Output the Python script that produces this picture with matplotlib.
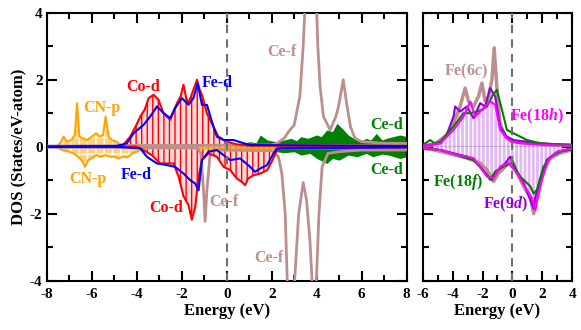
import numpy as np
import matplotlib
matplotlib.use('Agg')
import matplotlib.pyplot as plt
from matplotlib.ticker import MultipleLocator

plt.rcParams['font.family'] = ['Liberation Serif', 'DejaVu Serif']
plt.rcParams['font.weight'] = 'bold'
plt.rcParams['axes.labelweight'] = 'bold'
plt.rcParams['mathtext.fontset'] = 'custom'
plt.rcParams['mathtext.rm'] = 'Liberation Serif:bold'
plt.rcParams['mathtext.it'] = 'Liberation Serif:italic:bold'
plt.rcParams['hatch.linewidth'] = 1.0

# tick labels
left_xticks = [-8, -6, -4, -2, 0, 2, 4, 6, 8]
right_xticks = [-6, -4, -2, 0, 2, 4]
yticks = [-4, -2, 0, 2, 4]

# ---- left panel: total/partial DOS (energy, value) pairs ----
cnp_up_e = [-8, -7.6, -7.4, -7.25, -7.1, -6.9, -6.75, -6.65, -6.55, -6.4, -6.2, -6.0, -5.8,
            -5.65, -5.5, -5.38, -5.25, -5.1, -4.9, -4.7, -4.2, -3.8, 8]
cnp_up = [0, 0, 0.1, 0.3, 0.15, 0.2, 0.35, 1.3, 0.3, 0.25, 0.2, 0.3, 0.4,
          0.3, 0.35, 0.9, 0.3, 0.2, 0.15, 0.05, 0.04, 0.04, 0.04]
cnp_dn_e = [-8, -7.6, -7.3, -7.0, -6.8, -6.6, -6.4, -6.3, -6.15, -6.0, -5.8, -5.6, -5.4,
            -5.2, -5.0, -4.8, -4.6, -4.4, -4.2, -4.0, -3.8, -3.6, 8]
cnp_dn = [0, 0, -0.1, -0.15, -0.2, -0.3, -0.45, -0.6, -0.4, -0.35, -0.25, -0.3, -0.25,
          -0.3, -0.3, -0.35, -0.3, -0.32, -0.2, -0.15, -0.08, -0.05, -0.05]

cod_up_e = [-8, -4.8, -4.6, -4.29, -4.05, -3.84, -3.65, -3.47, -3.25, -3.03, -2.81, -2.51,
            -2.21, -2.05, -1.92, -1.8, -1.7, -1.48, -1.32, -1.2, -1.1, -0.88, -0.59, -0.37,
            0.0, 0.44, 1.0, 8]
cod_up = [0, 0, 0.05, 0.3, 0.6, 0.9, 1.1, 1.45, 1.55, 1.4, 1.0, 0.8,
          1.3, 1.5, 1.85, 1.45, 1.3, 1.7, 2.0, 1.7, 1.55, 1.0, 0.6, 0.3,
          0.15, 0.07, 0.03, 0.02]
cod_dn_e = [-8, -4.0, -3.7, -3.33, -2.96, -2.66, -2.36, -2.14, -1.92, -1.7, -1.55, -1.4,
            -1.25, -1.1, -0.81, -0.44, -0.14, 0.16, 0.45, 0.67, 0.82, 0.95, 1.2, 1.5,
            1.8, 2.0, 2.2, 2.4, 8]
cod_dn = [0, 0, -0.1, -0.25, -0.5, -0.5, -0.5, -0.89, -1.48, -1.74, -2.18, -1.8,
          -0.9, -0.4, -0.2, -0.3, -0.6, -0.7, -0.95, -1.05, -1.15, -0.95, -0.85, -0.8,
          -0.7, -0.45, -0.15, -0.03, -0.02]

fed_up_e = [-8, -4.9, -4.44, -4.14, -3.7, -3.4, -3.1, -2.8, -2.51, -2.3, -1.99, -1.7,
            -1.48, -1.29, -1.1, -0.88, -0.66, -0.44, -0.14, 0.3, 0.67, 1.04, 8]
fed_up = [0, 0.02, 0.1, 0.4, 0.65, 0.9, 1.2, 1.0, 0.85, 1.15, 1.45, 1.25,
          1.45, 1.9, 1.25, 1.25, 0.75, 0.3, 0.2, 0.2, 0.12, 0.05, 0.02]
fed_dn_e = [-8, -5.0, -3.84, -3.55, -3.1, -2.66, -2.3, -1.92, -1.62, -1.4, -1.25, -1.1,
            -0.81, -0.44, -0.14, 0.16, 0.6, 1.04, 1.26, 1.49, 1.79, 2.08, 2.24, 8]
fed_dn = [0, 0, -0.05, -0.3, -0.5, -0.55, -0.6, -0.8, -1.0, -1.1, -1.3, -0.4,
          -0.15, -0.1, -0.25, -0.4, -0.35, -0.6, -0.75, -0.65, -0.55, -0.2, -0.05, -0.02]

cef_up_e = [-8, 2.0, 2.23, 2.55, 2.75, 3.0, 3.25, 3.4, 3.5, 3.7, 3.95, 4.05, 4.15,
            4.3, 4.6, 4.85, 4.97, 5.18, 5.35, 5.5, 5.7, 6.0, 7.0, 8.0]
cef_up = [0.02, 0.05, 0.1, 0.25, 0.45, 0.65, 1.5, 3.0, 4.5, 7.0, 5.0, 3.0, 1.8,
          0.9, 0.5, 0.9, 1.2, 2.0, 1.2, 0.6, 0.25, 0.15, 0.1, 0.1]
cef_dn_e = [-8, -1.3, -1.15, -1.03, -0.96, -0.88, -0.73, -0.5, 2.0, 2.3, 2.45, 2.6, 2.7,
            2.85, 3.0, 3.2, 3.4, 3.55, 3.7, 3.8, 3.9, 3.98, 4.1, 4.24, 4.5, 5.0, 6.0, 8.0]
cef_dn = [-0.02, -0.03, -0.2, -1.3, -2.23, -1.3, -0.15, -0.1, -0.12, -0.3, -0.8, -2.0, -4.2,
          -6.0, -4.2, -2.0, -1.07, -1.6, -2.8, -4.1, -6.0, -4.1, -2.0, -0.6, -0.2, -0.15, -0.1, -0.1]

ced_up_e = [-8, -4, -3, -2, -1, -0.3, 0.3, 0.7, 1.0, 1.3, 1.49, 1.8, 2.2, 2.55, 2.86, 3.1,
            3.3, 3.6, 4.0, 4.2, 4.45, 4.7, 4.9, 5.2, 5.4, 5.64, 5.9, 6.2, 6.4, 6.65, 6.9,
            7.1, 7.4, 7.7, 8]
ced_up = [0, 0, 0.03, 0.05, 0.07, 0.1, 0.1, 0.07, 0.15, 0.12, 0.35, 0.2, 0.15, 0.2, 0.25, 0.18,
          0.3, 0.25, 0.35, 0.3, 0.5, 0.45, 0.7, 0.5, 0.35, 0.25, 0.15, 0.25, 0.2, 0.4, 0.2,
          0.25, 0.3, 0.35, 0.3]
ced_dn_e = [-8, -4, -2, -1.6, -1.0, -0.4, 0.3, 0.8, 1.2, 1.9, 2.55, 3.0, 3.3, 3.7, 4.0, 4.45,
            4.7, 5.0, 5.4, 5.8, 6.2, 6.5, 6.9, 7.2, 7.7, 8]
ced_dn = [0, 0, -0.03, -0.1, -0.15, -0.12, -0.1, -0.15, -0.18, -0.12, -0.18, -0.15, -0.25,
          -0.2, -0.35, -0.5, -0.35, -0.4, -0.25, -0.3, -0.2, -0.3, -0.22, -0.25, -0.35, -0.3]

# ---- right panel: Fe site-resolved DOS ----
fe6c_up_e = [-6, -5.3, -4.83, -4.39, -3.94, -3.5, -3.16, -2.94, -2.6, -2.27, -2.04, -1.82,
             -1.6, -1.37, -1.22, -1.0, -0.82, -0.48, -0.04, 0.52, 1.64, 2.75, 4]
fe6c_up = [0.05, 0.05, 0.2, 0.35, 0.7, 1.2, 1.75, 1.35, 1.2, 1.5, 1.9, 1.35,
           1.5, 2.0, 2.95, 1.5, 0.7, 0.3, 0.15, 0.15, 0.1, 0.05, 0.05]
fe6c_dn_e = [-6, -5.3, -4.83, -3.94, -3.05, -2.16, -1.71, -1.26, -0.93, -0.48, -0.04, 0.3,
             0.75, 1.19, 1.42, 1.75, 2.08, 2.53, 3.2, 4]
fe6c_dn = [-0.05, -0.09, -0.14, -0.24, -0.34, -0.49, -0.69, -1.04, -0.79, -0.6, -0.39, -0.79,
           -1.18, -1.53, -2.0, -1.28, -0.69, -0.34, -0.19, -0.09]

fe9d_up_e = [-6, -4.8, -4.4, -3.94, -3.83, -3.5, -3.05, -2.6, -2.16, -1.82, -1.49, -1.15,
             -0.82, -0.37, 0.07, 1.64, 4]
fe9d_up = [0.03, 0.1, 0.35, 0.9, 1.2, 1.05, 1.2, 0.85, 1.3, 1.2, 1.75, 1.5,
           0.6, 0.3, 0.2, 0.1, 0.05]
fe9d_dn_e = [-6, -4.8, -3.9, -3.0, -2.6, -2.16, -1.71, -1.37, -0.93, -0.48, -0.15, 0.3,
             0.75, 1.19, 1.42, 1.53, 1.86, 2.3, 3.0, 4]
fe9d_dn = [-0.03, -0.1, -0.2, -0.3, -0.39, -0.59, -0.84, -0.99, -0.69, -0.49, -0.3, -0.74,
           -1.08, -1.58, -1.85, -1.5, -0.99, -0.39, -0.15, -0.05]

fe18h_up_e = [-6, -4.83, -3.94, -3.27, -2.82, -2.49, -2.04, -1.49, -1.15, -0.82, -0.37,
              -0.04, 0.5, 2.0, 4]
fe18h_up = [0.03, 0.1, 0.5, 0.9, 1.35, 0.9, 1.1, 1.35, 1.25, 0.5, 0.25,
            0.15, 0.1, 0.05, 0.03]
fe18h_dn_e = [-6, -4.8, -3.9, -3.0, -2.6, -1.71, -1.26, -0.82, -0.26, 0.3, 0.75, 1.3,
              1.53, 1.64, 1.97, 2.41, 3.0, 4]
fe18h_dn = [-0.03, -0.1, -0.22, -0.3, -0.34, -0.89, -0.94, -0.59, -0.49, -0.79, -1.13, -1.53,
            -1.9, -1.63, -0.99, -0.39, -0.15, -0.05]

fe18f_up_e = [-6, -5.5, -5.2, -4.83, -3.94, -3.27, -2.82, -2.38, -2.04, -1.71, -1.37, -1.04,
              -0.7, -0.37, 0.3, 0.97, 1.86, 4]
fe18f_up = [0.05, 0.2, 0.1, 0.15, 0.6, 1.0, 1.0, 1.05, 1.1, 1.2, 1.5, 1.7,
            1.1, 0.5, 0.35, 0.2, 0.1, 0.05]
fe18f_dn_e = [-6, -4.8, -3.9, -3.0, -2.6, -1.71, -1.49, -1.15, -0.59, -0.04, 0.52, 1.19,
              1.42, 1.64, 2.08, 2.6, 3.2, 4]
fe18f_dn = [-0.05, -0.1, -0.22, -0.35, -0.4, -0.84, -0.99, -0.74, -0.59, -0.49, -0.89, -1.18,
            -1.4, -1.28, -0.59, -0.3, -0.15, -0.08]

ORANGE = '#FFA500'
ROSY = '#BC8F8F'
GREEN = '#008000'
PURPLE = '#9400D3'


def style_axes(ax, xmin, xmax, xt):
    ax.set_xlim(xmin, xmax)
    ax.set_ylim(-4, 4)
    ax.set_xticks(xt)
    ax.set_xticklabels([str(t) for t in xt], fontweight='bold', fontsize=11)
    ax.set_yticks(yticks)
    ax.set_yticklabels([str(t) for t in yticks], fontweight='bold', fontsize=11)
    ax.xaxis.set_minor_locator(MultipleLocator(1))
    ax.yaxis.set_minor_locator(MultipleLocator(1))
    ax.tick_params(which='both', direction='in', top=True, right=True, width=1.5)
    ax.tick_params(which='major', length=7)
    ax.tick_params(which='minor', length=4)
    ax.tick_params(axis='x', pad=5)
    for sp in ax.spines.values():
        sp.set_linewidth(1.5)
    ax.axhline(0, color='black', lw=1.5, zorder=0)
    ax.axvline(0, color='#707070', lw=1.5, ls=(0, (4, 3)), zorder=8)
    ax.set_xlabel('Energy (eV)', fontsize=12, fontweight='bold', labelpad=2)


fig = plt.figure(figsize=(5.81, 3.30), dpi=100)
ax1 = fig.add_axes([0.0804, 0.1494, 0.6196, 0.8121])
ax2 = fig.add_axes([0.7275, 0.1494, 0.2575, 0.8121])

# left panel
for e, v in [(ced_up_e, ced_up), (ced_dn_e, ced_dn)]:
    ax1.fill_between(e, v, 0, color=GREEN, lw=0, zorder=1)
for e, v in [(cnp_up_e, cnp_up), (cnp_dn_e, cnp_dn)]:
    ax1.fill_between(e, v, 0, facecolor='#FFD27F', edgecolor='white', hatch='++', lw=0, zorder=2)
    ax1.plot(e, v, color=ORANGE, lw=1.5, zorder=3)
for e, v in [(cod_up_e, cod_up), (cod_dn_e, cod_dn)]:
    ax1.fill_between(e, v, 0, facecolor='#FFDADA', edgecolor='red', hatch='|||', lw=0, zorder=2)
for e, v in [(cef_up_e, cef_up), (cef_dn_e, cef_dn)]:
    ax1.plot(e, v, color=ROSY, lw=2, zorder=4)
for e, v in [(cod_up_e, cod_up), (cod_dn_e, cod_dn)]:
    ax1.plot(e, v, color='red', lw=1.5, zorder=5)
for e, v in [(fed_up_e, fed_up), (fed_dn_e, fed_dn)]:
    ax1.plot(e, v, color='blue', lw=1.5, zorder=6)

style_axes(ax1, -8, 8, left_xticks)
ax1.set_ylabel('DOS (States/eV-atom)', fontsize=12, fontweight='bold', labelpad=2)
ax1.tick_params(axis='y', pad=3)

lab = dict(ha='center', va='center', fontsize=11.5, fontweight='bold', zorder=10)
ax1.text(-5.53, 1.16, 'CN-p', color=ORANGE, **lab)
ax1.text(-6.16, -0.96, 'CN-p', color=ORANGE, **lab)
ax1.text(-3.71, 1.79, 'Co-d', color='red', **lab)
ax1.text(-2.69, -1.82, 'Co-d', color='red', **lab)
ax1.text(-0.42, 1.91, 'Fe-d', color='blue', **lab)
ax1.text(-4.02, -0.84, 'Fe-d', color='blue', **lab)
ax1.text(2.47, 2.84, 'Ce-f', color=ROSY, **lab)
ax1.text(-0.11, -1.64, 'Ce-f', color=ROSY, **lab)
ax1.text(1.89, -3.31, 'Ce-f', color=ROSY, **lab)
ax1.text(7.09, 0.66, 'Ce-d', color=GREEN, **lab)
ax1.text(7.09, -0.69, 'Ce-d', color=GREEN, **lab)

# right panel
for e, v in [(fe9d_up_e, fe9d_up), (fe9d_dn_e, fe9d_dn)]:
    ax2.fill_between(e, v, 0, facecolor='#E2B8F4', edgecolor='white', hatch='||||', lw=0, zorder=1)
for e, v in [(fe6c_up_e, fe6c_up), (fe6c_dn_e, fe6c_dn)]:
    ax2.plot(e, v, color=ROSY, lw=2.5, zorder=2)
for e, v in [(fe9d_up_e, fe9d_up), (fe9d_dn_e, fe9d_dn)]:
    ax2.plot(e, v, color=PURPLE, lw=1.5, zorder=3)
for e, v in [(fe18f_up_e, fe18f_up), (fe18f_dn_e, fe18f_dn)]:
    ax2.plot(e, v, color=GREEN, lw=1.5, zorder=4)
for e, v in [(fe18h_up_e, fe18h_up), (fe18h_dn_e, fe18h_dn)]:
    ax2.plot(e, v, color='magenta', lw=1.5, zorder=5)

style_axes(ax2, -6, 4, right_xticks)
ax2.tick_params(axis='y', labelleft=False)

ax2.text(-3.09, 2.24, r'Fe$\mathit{(6c)}$', color=ROSY, **lab)
ax2.text(1.66, 0.90, r'Fe$\mathit{(18h)}$', color='magenta', **lab)
ax2.text(-3.63, -1.04, r'Fe$\mathit{(18f)}$', color=GREEN, **lab)
ax2.text(-0.48, -1.73, r'Fe$\mathit{(9d)}$', color=PURPLE, **lab)

fig.savefig('out.png', dpi=100)
